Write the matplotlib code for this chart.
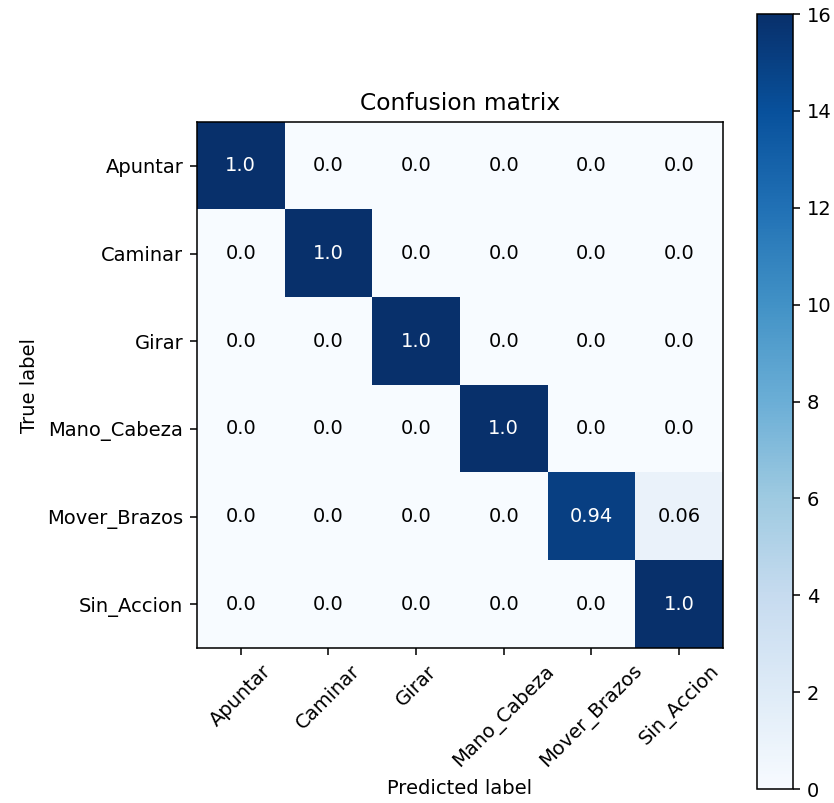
"""Matriz de confusión del clasificador de acciones"""

import matplotlib
matplotlib.use('Agg')
import matplotlib.pyplot as plt
import numpy as np

CLASSES = ['Apuntar', 'Caminar', 'Girar', 'Mano_Cabeza', 'Mover_Brazos', 'Sin_Accion']

# Conteos por fila (etiqueta real) y columna (predicción)
COUNTS = [
    [16, 0, 0, 0, 0, 0],
    [0, 16, 0, 0, 0, 0],
    [0, 0, 16, 0, 0, 0],
    [0, 0, 0, 16, 0, 0],
    [0, 0, 0, 0, 15, 1],
    [0, 0, 0, 0, 0, 16],
]

DPI = 140

cm = np.array(COUNTS)
cm_norm = cm / cm.sum(axis=1, keepdims=True)

fig = plt.figure(figsize=(834 / DPI, 803 / DPI), dpi=DPI)
ax = fig.add_axes([0.236, 0.193, 0.631, 0.655])
cax = fig.add_axes([0.908, 0.0174, 0.043, 0.965])

im = ax.imshow(cm, interpolation='nearest', cmap=plt.cm.Blues, vmin=0, vmax=cm.max())
ax.set_title('Confusion matrix')
fig.colorbar(im, cax=cax)

tick_marks = np.arange(len(CLASSES))
ax.set_xticks(tick_marks)
ax.set_xticklabels(CLASSES, rotation=45)
ax.set_yticks(tick_marks)
ax.set_yticklabels(CLASSES)

thresh = cm.max() / 2.
for i in range(cm.shape[0]):
    for j in range(cm.shape[1]):
        ax.text(j, i, round(cm_norm[i, j], 2),
                horizontalalignment='center', verticalalignment='center',
                color='white' if cm[i, j] > thresh else 'black')

ax.set_ylabel('True label')
ax.set_xlabel('Predicted label')

plt.savefig('out.png', dpi=DPI)
